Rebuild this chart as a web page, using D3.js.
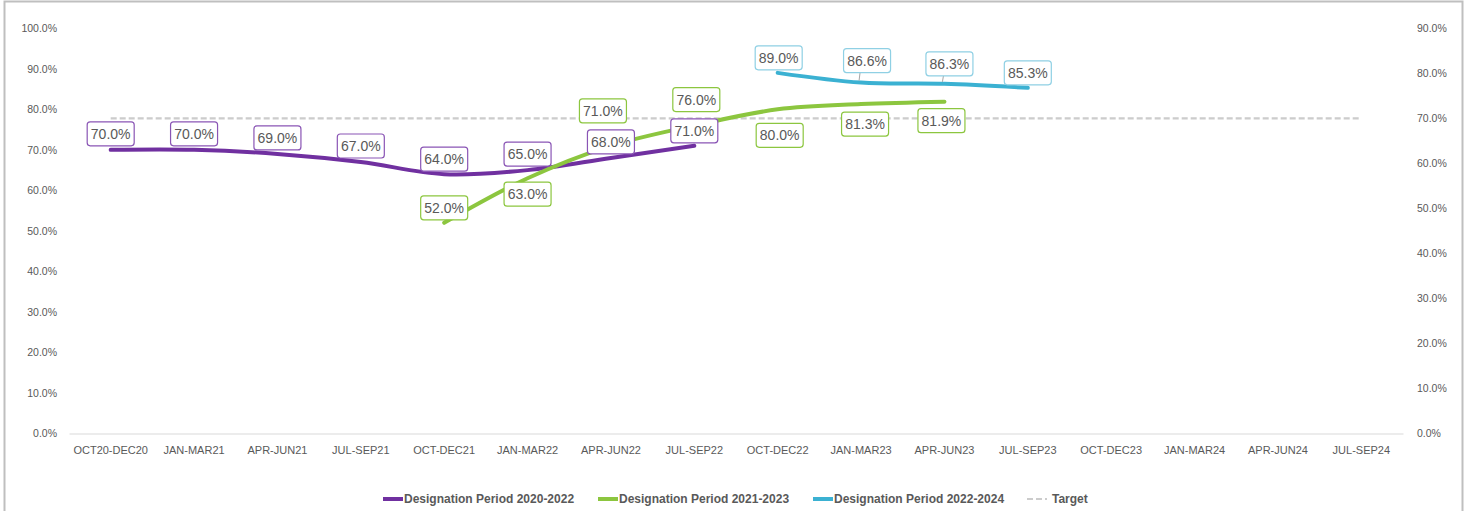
<!DOCTYPE html>
<html>
<head>
<meta charset="utf-8">
<script src="https://cdn.jsdelivr.net/npm/d3@7/dist/d3.min.js"></script>
<style>
  body { margin: 0; background: #fff; }
  svg { display: block; font-family: "Liberation Sans", Arial, sans-serif; }
  .axis text { fill: #595959; }
</style>
</head>
<body>
<svg id="chart" width="1466" height="511"></svg>
<script>
// categories and series (null = no value for that quarter)
var categories = ["OCT20-DEC20", "JAN-MAR21", "APR-JUN21", "JUL-SEP21", "OCT-DEC21", "JAN-MAR22",
  "APR-JUN22", "JUL-SEP22", "OCT-DEC22", "JAN-MAR23", "APR-JUN23", "JUL-SEP23",
  "OCT-DEC23", "JAN-MAR24", "APR-JUN24", "JUL-SEP24"];

var period2020 = [0.70, 0.70, 0.69, 0.67, 0.64, 0.65, 0.68, 0.71, null, null, null, null, null, null, null, null];
var period2021 = [null, null, null, null, 0.52, 0.63, 0.71, 0.76, 0.80, 0.813, 0.819, null, null, null, null, null];
var period2022 = [null, null, null, null, null, null, null, null, 0.89, 0.866, 0.863, 0.853, null, null, null, null];
var target = [0.70, 0.70, 0.70, 0.70, 0.70, 0.70, 0.70, 0.70, 0.70, 0.70, 0.70, 0.70, 0.70, 0.70, 0.70, 0.70];

var leftTicks = [0, 0.1, 0.2, 0.3, 0.4, 0.5, 0.6, 0.7, 0.8, 0.9, 1.0];
var rightTicks = [0, 0.1, 0.2, 0.3, 0.4, 0.5, 0.6, 0.7, 0.8, 0.9];

var legendNames = ["Designation Period 2020-2022", "Designation Period 2021-2023", "Designation Period 2022-2024", "Target"];

// label placement (offset of label box centre from its point), px
var labelShift2020 = [[0, -16], [0, -16], [0, -16], [0, -16], [0, -15], [0, -16], [0, -16], [0, -15]];
var labelShift2021 = [[0, -15], [0, 16], [-8, -35], [2, -26], [2, 26], [4, 20], [-3, 19]];
var labelShift2022 = [[1, -15], [6, -22], [5, -20], [0, -15]];

var svg = d3.select("#chart");

// chart border
svg.append("rect")
  .attr("x", 4.5).attr("y", 1.5).attr("width", 1458).attr("height", 520)
  .attr("fill", "none").attr("stroke", "#bfbfbf").attr("stroke-width", 2);

var x = d3.scaleBand().domain(categories).range([69, 1403]);
var yLeft = d3.scaleLinear().domain([0, 1]).range([433.5, 28.3]);
var yRight = d3.scaleLinear().domain([0, 0.9]).range([433.5, 28.3]);
var cx = function (c) { return x(c) + x.bandwidth() / 2; };

var fmt = d3.format(".1%");

// axes
var gl = svg.append("g").attr("class", "axis").attr("transform", "translate(69,0)")
  .call(d3.axisLeft(yLeft).tickValues(leftTicks).tickFormat(fmt).tickSize(0).tickPadding(12));
gl.select(".domain").remove();
gl.selectAll("text").attr("font-size", 10.5);

var gr = svg.append("g").attr("class", "axis").attr("transform", "translate(1403,0)")
  .call(d3.axisRight(yRight).tickValues(rightTicks).tickFormat(fmt).tickSize(0).tickPadding(14));
gr.select(".domain").remove();
gr.selectAll("text").attr("font-size", 10.5);

var gb = svg.append("g").attr("class", "axis").attr("transform", "translate(0,433.5)")
  .call(d3.axisBottom(x).tickSize(0).tickPadding(13));
gb.select(".domain").attr("stroke", "#d9d9d9");
gb.selectAll("text").attr("font-size", 11);

// lines
var makeLine = function (scale) {
  return d3.line()
    .defined(function (d) { return d != null; })
    .x(function (d, i) { return cx(categories[i]); })
    .y(function (d) { return scale(d); })
    .curve(d3.curveCatmullRom.alpha(0.5));
};

svg.append("path").datum(target)
  .attr("d", makeLine(yRight).curve(d3.curveLinear))
  .attr("fill", "none").attr("stroke", "#cccccc").attr("stroke-width", 2.2)
  .attr("stroke-dasharray", "6,3");

var series = [
  { values: period2020, color: "#7030a0", box: "#8a55b5", shift: labelShift2020 },
  { values: period2021, color: "#8cc63f", box: "#8cc63f", shift: labelShift2021 },
  { values: period2022, color: "#3bb1d2", box: "#8fd0e4", shift: labelShift2022 }
];

series.forEach(function (s) {
  svg.append("path").datum(s.values)
    .attr("d", makeLine(yLeft))
    .attr("fill", "none").attr("stroke", s.color).attr("stroke-width", 4)
    .attr("stroke-linecap", "round").attr("stroke-linejoin", "round");
});

// data labels
series.forEach(function (s) {
  var k = 0;
  s.values.forEach(function (v, i) {
    if (v == null) return;
    var px = cx(categories[i]), py = yLeft(v);
    var sh = s.shift[k++];
    var lx = px + sh[0], ly = py + sh[1];
    var w = 47, h = 24;
    // leader lines for the labels pulled away from the line
    if (sh[1] < -18 && s.values === period2022) {
      svg.append("line")
        .attr("x1", px - 1).attr("y1", ly + h / 2).attr("x2", px - 2).attr("y2", py - 2)
        .attr("stroke", "#a6a6a6").attr("stroke-width", 1);
    }
    svg.append("rect")
      .attr("x", lx - w / 2).attr("y", ly - h / 2).attr("width", w).attr("height", h)
      .attr("rx", 3).attr("fill", "#fff").attr("stroke", s.box).attr("stroke-width", 1.2);
    svg.append("text")
      .attr("x", lx).attr("y", ly).attr("dy", "0.36em")
      .attr("text-anchor", "middle").attr("font-size", 14).attr("fill", "#595959")
      .text(fmt(v));
  });
});

// legend
var legendX = [383, 598, 813, 1027];
var legendColors = ["#7030a0", "#8cc63f", "#3bb1d2", "#cccccc"];
legendNames.forEach(function (name, i) {
  var g = svg.append("g").attr("transform", "translate(" + legendX[i] + ",499)");
  var ln = g.append("line").attr("x1", 0).attr("x2", 20).attr("y1", 0).attr("y2", 0)
    .attr("stroke", legendColors[i]).attr("stroke-width", i < 3 ? 4 : 2);
  if (i === 3) ln.attr("stroke-dasharray", "6,3");
  g.append("text").attr("x", i < 3 ? 21 : 25).attr("dy", "0.35em")
    .attr("font-size", 12).attr("font-weight", "bold").attr("fill", "#595959")
    .text(name);
});
</script>
</body>
</html>
